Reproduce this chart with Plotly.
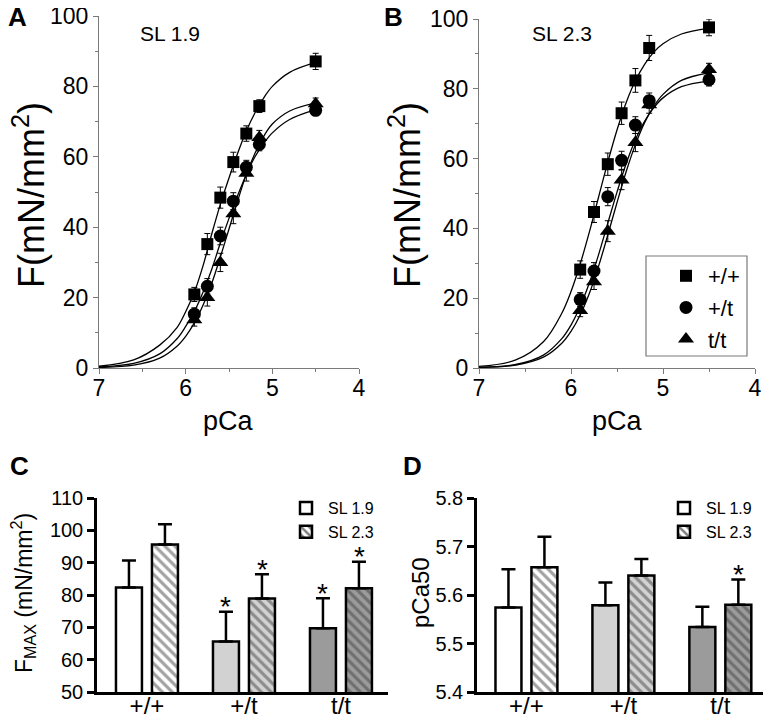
import plotly.graph_objects as go

# page geometry (plotly div sits inside the default 8px body margin)
W, H, OFF = 755, 706, 8
def fx(px):
    return (px - OFF) / W
def fy(py):
    return 1 - (py - OFF) / H

## DATA
pca_pts = [5.9, 5.75, 5.6, 5.45, 5.3, 5.15, 4.5]
genotypes = ["+/+", "+/t", "t/t"]

# panel A, SL 1.9
a_wt = [20.9, 35.2, 48.4, 58.5, 66.6, 74.4, 87.1]
a_het = [15.3, 23.2, 37.5, 47.4, 57.0, 63.5, 73.2]
a_hom = [13.7, 20.0, 30.0, 43.8, 55.3, 65.5, 75.1]
a_wt_err = [2.0, 3.0, 3.0, 2.8, 2.2, 1.8, 2.3]
a_het_err = [1.8, 2.2, 2.5, 2.4, 2.0, 1.8, 1.5]
a_hom_err = [1.8, 2.4, 2.6, 2.8, 2.2, 2.0, 1.6]

# panel B, SL 2.3
b_wt = [28.2, 44.7, 58.4, 73.0, 82.4, 91.7, 97.6]
b_het = [19.6, 27.8, 49.1, 59.5, 69.6, 76.6, 82.6]
b_hom = [16.5, 24.7, 39.2, 53.9, 64.6, 75.4, 85.5]
b_wt_err = [2.5, 3.0, 3.2, 3.2, 3.4, 3.6, 2.4]
b_het_err = [2.0, 2.4, 2.6, 2.6, 2.4, 2.2, 1.8]
b_hom_err = [1.8, 2.2, 3.0, 2.8, 2.6, 2.4, 1.8]

# fitted curves
pca_fit = [7.0, 6.6, 6.3, 6.1, 6.0, 5.9, 5.8, 5.7, 5.6, 5.5, 5.4, 5.3, 5.2, 5.1, 5.0, 4.8, 4.5]
a_wt_fit = [0.5, 2.3, 6.5, 11.5, 16.0, 21.5, 29.0, 38.0, 46.5, 54.0, 61.0, 67.3, 72.5, 76.7, 80.0, 84.0, 86.8]
a_het_fit = [0.3, 1.3, 4.0, 8.3, 11.8, 16.0, 21.5, 28.0, 35.5, 42.5, 49.0, 55.0, 60.0, 63.8, 66.8, 70.6, 73.4]
a_hom_fit = [0.15, 0.8, 2.8, 6.2, 9.0, 12.8, 17.8, 24.0, 31.5, 39.5, 47.5, 55.0, 61.0, 65.8, 69.3, 73.0, 75.3]
b_wt_fit = [0.45, 2.3, 7.5, 15.7, 21.9, 29.8, 39.0, 49.0, 59.0, 68.2, 76.1, 82.3, 87.0, 90.5, 92.9, 95.7, 97.3]
b_het_fit = [0.2, 1.0, 3.7, 8.4, 12.3, 17.6, 24.4, 32.5, 41.5, 50.4, 58.6, 65.4, 70.7, 74.6, 77.4, 80.6, 82.3]
b_hom_fit = [0.15, 0.86, 3.1, 7.1, 10.5, 15.2, 21.4, 29.2, 38.1, 47.4, 56.3, 64.0, 70.3, 75.0, 78.4, 82.4, 84.6]

# panel C
fmax_19 = [82.3, 65.6, 69.7]
fmax_19_err = [8.4, 9.2, 9.3]
fmax_23 = [95.6, 78.9, 82.1]
fmax_23_err = [6.3, 7.5, 8.2]
fmax_19_sig = ["", "*", "*"]
fmax_23_sig = ["", "*", "*"]

# panel D
pca50_19 = [5.574, 5.579, 5.534]
pca50_19_err = [0.079, 0.047, 0.042]
pca50_23 = [5.657, 5.640, 5.580]
pca50_23_err = [0.063, 0.034, 0.052]
pca50_19_sig = ["", "", ""]
pca50_23_sig = ["", "", "*"]

FONT = "Arial, Liberation Sans, sans-serif"
bar_fill = ["white", "#d2d2d2", "#9b9b9b"]
symbols = ["square", "circle", "triangle-up"]
sizes = [12, 13, 14]
names = ["+/+", "+/t", "t/t"]

fig = go.Figure()

# pCa curves
panels = [
    ("x", "y", [a_wt_fit, a_het_fit, a_hom_fit], [a_wt, a_het, a_hom], [a_wt_err, a_het_err, a_hom_err], False),
    ("x2", "y2", [b_wt_fit, b_het_fit, b_hom_fit], [b_wt, b_het, b_hom], [b_wt_err, b_het_err, b_hom_err], True),
]
for xa, ya, fits, pts, errs, leg in panels:
    for i in range(3):
        fig.add_trace(go.Scatter(
            x=pca_fit, y=fits[i], xaxis=xa, yaxis=ya, mode="lines",
            line=dict(color="black", width=1.3, shape="spline", smoothing=1.0),
            showlegend=False, hoverinfo="skip"))
    for i in range(3):
        fig.add_trace(go.Scatter(
            x=pca_pts, y=pts[i], xaxis=xa, yaxis=ya, mode="markers", name=names[i],
            marker=dict(symbol=symbols[i], size=sizes[i], color="black"),
            error_y=dict(type="data", array=errs[i], color="black", thickness=1, width=3),
            showlegend=leg, legend="legend"))

# bar panels
bars = [
    ("x3", "y3", fmax_19, fmax_19_err, fmax_23, fmax_23_err, "legend2"),
    ("x4", "y4", pca50_19, pca50_19_err, pca50_23, pca50_23_err, "legend3"),
]
for xa, ya, v19, e19, v23, e23, lg in bars:
    fig.add_trace(go.Bar(
        x=genotypes, y=v19, xaxis=xa, yaxis=ya, name="SL 1.9", legend=lg,
        marker=dict(color=bar_fill, line=dict(color="black", width=2.5)),
        error_y=dict(type="data", symmetric=False, array=e19, arrayminus=[0, 0, 0],
                     color="black", thickness=2.5, width=7)))
    fig.add_trace(go.Bar(
        x=genotypes, y=v23, xaxis=xa, yaxis=ya, name="SL 2.3", legend=lg,
        marker=dict(color=bar_fill, line=dict(color="black", width=2.5),
                    pattern=dict(shape="\\", fgcolor="black", size=7, solidity=0.45,
                                 fillmode="overlay")),
        error_y=dict(type="data", symmetric=False, array=e23, arrayminus=[0, 0, 0],
                     color="black", thickness=2.5, width=7)))

ann = []
# significance stars
for xa, ya, vals, errs, sig, off in [
        ("x3", "y3", fmax_19, fmax_19_err, fmax_19_sig, -0.186),
        ("x3", "y3", fmax_23, fmax_23_err, fmax_23_sig, 0.186),
        ("x4", "y4", pca50_19, pca50_19_err, pca50_19_sig, -0.186),
        ("x4", "y4", pca50_23, pca50_23_err, pca50_23_sig, 0.186)]:
    for i in range(3):
        if sig[i]:
            ann.append(dict(x=i + off, y=vals[i] + errs[i], xref=xa, yref=ya, text=sig[i],
                            showarrow=False, yanchor="middle", yshift=5,
                            font=dict(size=28, family=FONT, color="black")))

def txt(x, y, t, size, bold=False, angle=0):
    return dict(x=fx(x), y=fy(y), xref="paper", yref="paper", text=("<b>%s</b>" % t) if bold else t,
                showarrow=False, textangle=angle, xanchor="center", yanchor="middle",
                font=dict(size=size, family=FONT, color="black"))

ann += [
    txt(17, 17, "A", 26, True), txt(393, 17, "B", 26, True),
    txt(19, 466, "C", 26, True), txt(412, 466, "D", 26, True),
    txt(170, 34, "SL 1.9", 21), txt(562, 34, "SL 2.3", 21),
    txt(29, 195, "F(mN/mm<sup>2</sup>)", 36, angle=-90),
    txt(405, 195, "F(mN/mm<sup>2</sup>)", 36, angle=-90),
    txt(228, 421, "pCa", 27), txt(617, 421, "pCa", 27),
    txt(23, 593, "F<sub>MAX</sub> (mN/mm<sup>2</sup>)", 23, angle=-90),
    txt(420, 593, "pCa50", 24, angle=-90),
]

pca_x = dict(range=[7, 4], dtick=1, showline=True, linecolor="#7a7a7a", linewidth=1.2,
             ticks="outside", ticklen=5, tickcolor="#7a7a7a", ticklabelstandoff=-6,
             minor=dict(ticks="outside", ticklen=3, dtick=0.5, tickcolor="#7a7a7a"),
             showgrid=False, zeroline=False, tickfont=dict(size=23, family=FONT, color="black"))
pca_y = dict(range=[0, 100], dtick=20, showline=True, linecolor="#7a7a7a", linewidth=1.2,
             ticks="outside", ticklen=5, tickcolor="#7a7a7a", ticklabeloverflow="allow",
             minor=dict(ticks="outside", ticklen=3, dtick=10, tickcolor="#7a7a7a"),
             showgrid=False, zeroline=False, tickfont=dict(size=23, family=FONT, color="black"))
bar_x = dict(showline=True, linecolor="black", linewidth=2.5, ticks="", ticklen=0,
             ticklabelstandoff=-10, ticklabeloverflow="allow", showgrid=False,
             zeroline=False, tickfont=dict(size=24, family=FONT, color="black"))
bar_y = dict(showline=True, linecolor="black", linewidth=2.5, ticks="outside", ticklen=7,
             tickwidth=2.5, tickcolor="black", showgrid=False, zeroline=False,
             ticklabeloverflow="allow", tickfont=dict(size=20, family=FONT, color="black"))

fig.update_layout(
    width=W, height=H, margin=dict(l=0, r=0, t=0, b=0, autoexpand=False),
    paper_bgcolor="white", plot_bgcolor="white",
    font=dict(family=FONT, color="black"),
    barmode="group", bargap=0.258, bargroupgap=0.278,
    xaxis=dict(pca_x, domain=[fx(99), fx(359)], anchor="y"),
    yaxis=dict(pca_y, domain=[fy(368), fy(16)], anchor="x"),
    xaxis2=dict(pca_x, domain=[fx(479), fx(755)], anchor="y2"),
    yaxis2=dict(pca_y, domain=[fy(368), fy(19)], anchor="x2"),
    xaxis3=dict(bar_x, domain=[fx(97), fx(388)], range=[-0.515, 2.485], anchor="y3"),
    yaxis3=dict(bar_y, domain=[fy(692), fy(498)], range=[50, 110], dtick=10, anchor="x3"),
    xaxis4=dict(bar_x, domain=[fx(477), 1.0], range=[-0.51, 2.44], anchor="y4"),
    yaxis4=dict(bar_y, domain=[fy(692), fy(498)], range=[5.4, 5.8], dtick=0.1,
                tickformat=".1f", anchor="x4"),
    legend=dict(x=fx(664), y=fy(255), xanchor="left", yanchor="top",
                bgcolor="rgba(0,0,0,0)", borderwidth=0, itemwidth=34,
                font=dict(size=22, family=FONT, color="black")),
    legend2=dict(x=fx(284), y=fy(491), xanchor="left", yanchor="top", itemwidth=34,
                 bgcolor="rgba(0,0,0,0)", font=dict(size=16, family=FONT, color="black")),
    legend3=dict(x=fx(662), y=fy(491), xanchor="left", yanchor="top", itemwidth=34,
                 bgcolor="rgba(0,0,0,0)", font=dict(size=16, family=FONT, color="black")),
    shapes=[dict(type="rect", xref="paper", yref="paper",
                 x0=fx(646), x1=fx(747), y0=fy(356), y1=fy(256),
                 line=dict(color="#7a7a7a", width=1.2))],
    annotations=ann,
)

fig.write_html("out.html")
